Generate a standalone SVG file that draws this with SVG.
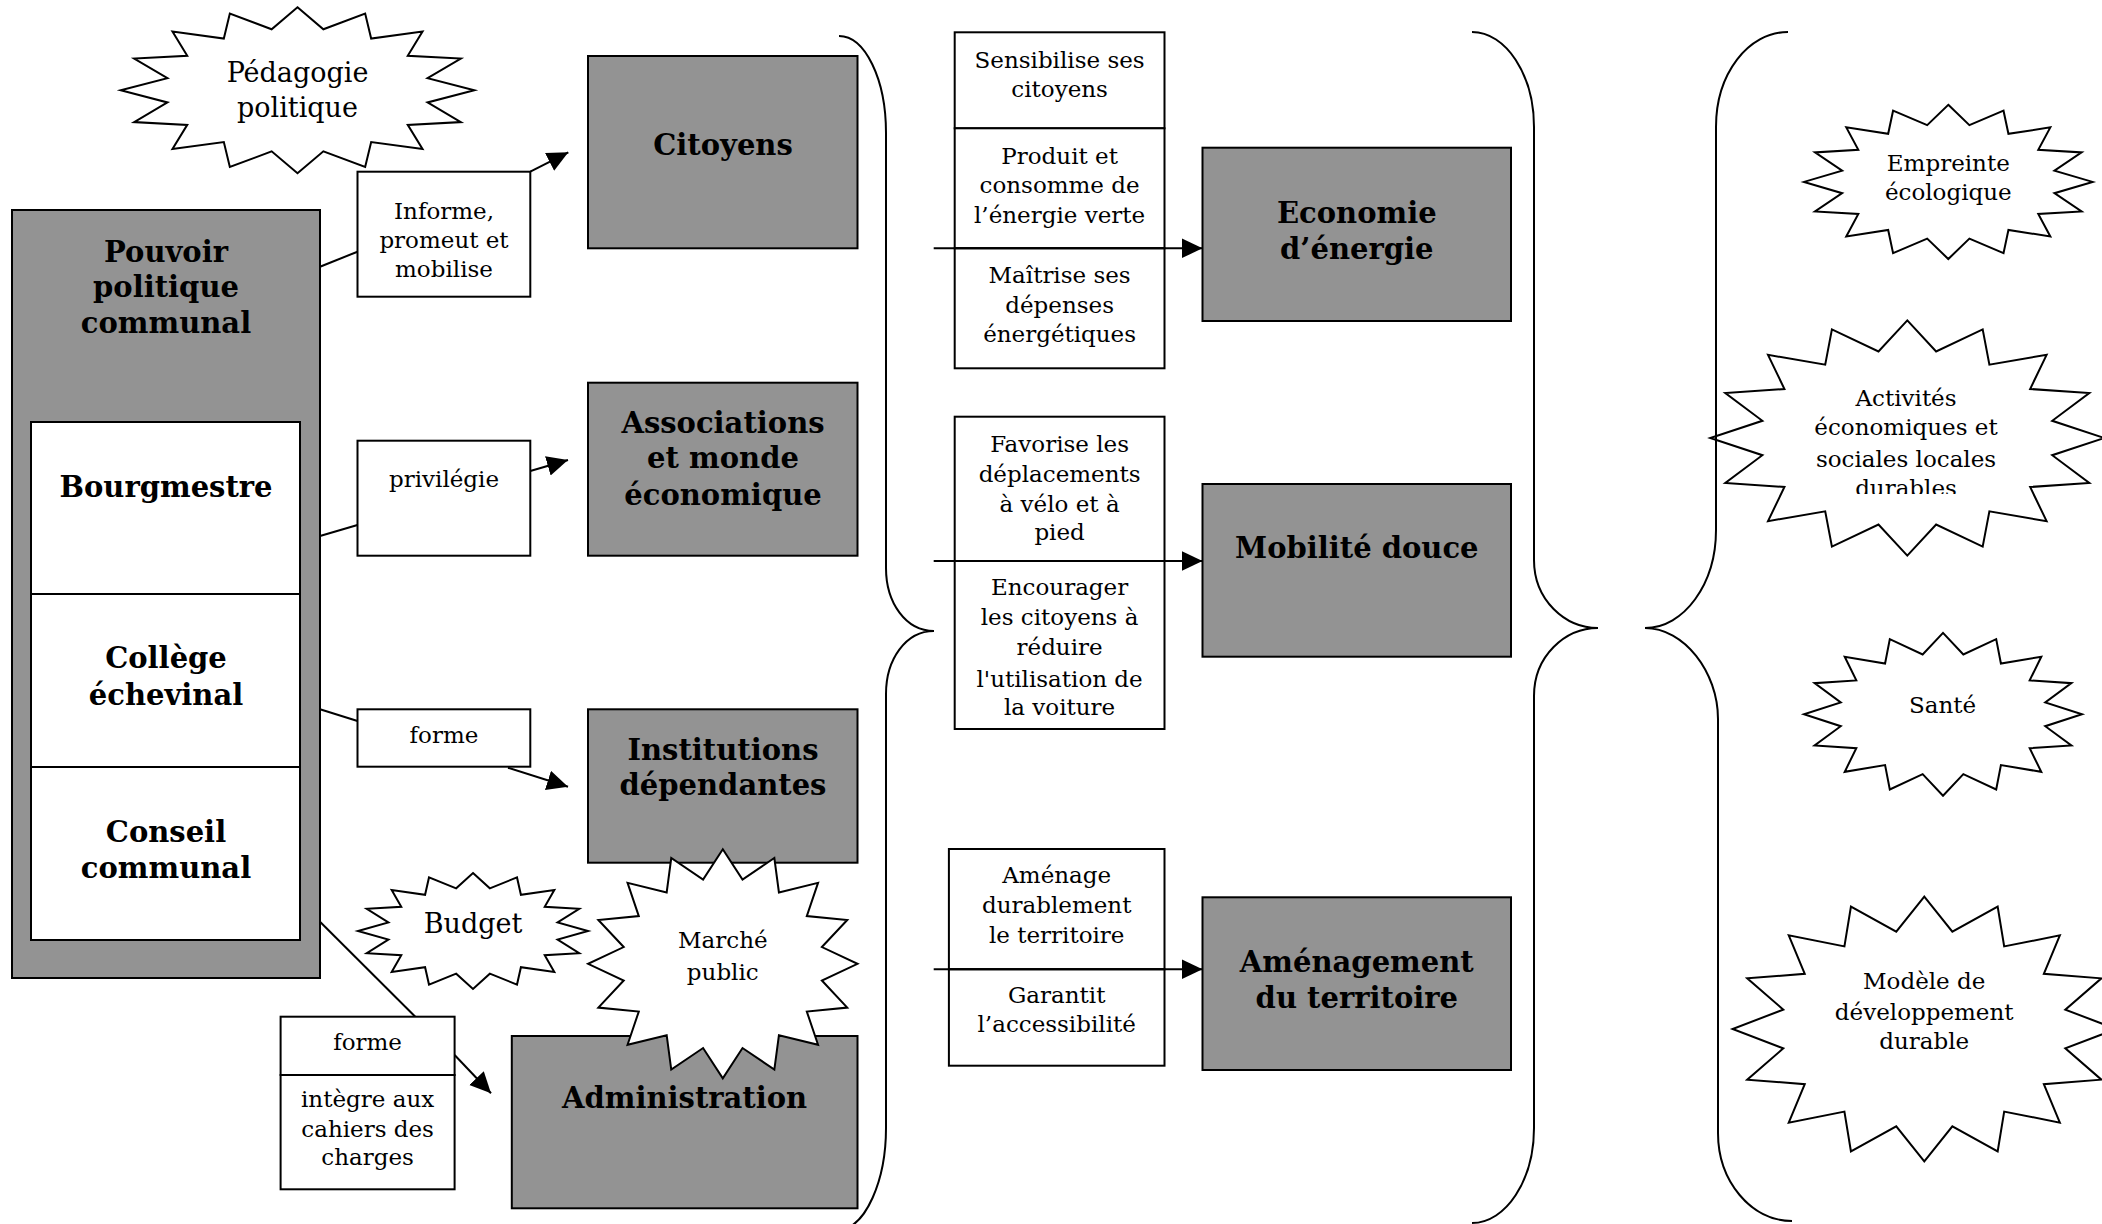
<svg xmlns="http://www.w3.org/2000/svg" xmlns:xlink="http://www.w3.org/1999/xlink" width="2102" height="1224" viewBox="0 0 2102 1224">
<style>
.gray{fill:#939393;stroke:#000;stroke-width:2}
.wbox{fill:#fff;stroke:#000;stroke-width:2}
.star{fill:#fff;stroke:#000;stroke-width:2}
.ln{stroke:#000;stroke-width:2;fill:none}
.arr{stroke:#000;stroke-width:2;fill:none;marker-end:url(#ah)}
.brace{fill:none;stroke:#000;stroke-width:2}
text{font-family:"DejaVu Serif","Liberation Serif",serif;text-anchor:middle;fill:#000}
.b{font-weight:bold;font-size:29px}
.n{font-size:23px}
.l{font-size:27px}
</style>
<defs>
<marker id="ah" markerUnits="userSpaceOnUse" markerWidth="24" markerHeight="22" refX="21" refY="10" orient="auto"><path d="M0,0 L21,10 L0,20 z" fill="#000"/></marker>
<polygon id="star16" vector-effect="non-scaling-stroke" points="0,-1 0.14632,-0.73559 0.38268,-0.92388 0.41668,-0.6236 0.70711,-0.70711 0.6236,-0.41668 0.92388,-0.38268 0.73559,-0.14632 1,0 0.73559,0.14632 0.92388,0.38268 0.6236,0.41668 0.70711,0.70711 0.41668,0.6236 0.38268,0.92388 0.14632,0.73559 0,1 -0.14632,0.73559 -0.38268,0.92388 -0.41668,0.6236 -0.70711,0.70711 -0.6236,0.41668 -0.92388,0.38268 -0.73559,0.14632 -1,0 -0.73559,-0.14632 -0.92388,-0.38268 -0.6236,-0.41668 -0.70711,-0.70711 -0.41668,-0.6236 -0.38268,-0.92388 -0.14632,-0.73559"/>
<clipPath id="clipAct"><rect x="1700" y="300" width="410" height="194"/></clipPath>
</defs>

<g id="connectors">
<line class="ln" x1="320" y1="266.7" x2="357.5" y2="251.7"/>
<line class="ln" x1="320" y1="536" x2="357.5" y2="525"/>
<line class="ln" x1="320" y1="709.3" x2="357.5" y2="721"/>
<line class="ln" x1="320" y1="921.7" x2="415.3" y2="1016.7"/>
<line class="arr" x1="530.3" y1="171.7" x2="568.3" y2="152.3"/>
<line class="arr" x1="530.3" y1="471" x2="568" y2="460"/>
<line class="arr" x1="508" y1="767.7" x2="568" y2="786.7"/>
<line class="arr" x1="454.6" y1="1055" x2="491" y2="1093.3"/>
</g>

<g id="pouvoir">
<rect class="gray" x="12" y="210" width="308" height="768"/>
<text class="b" x="166" y="261.7">Pouvoir</text>
<text class="b" x="166" y="297">politique</text>
<text class="b" x="166" y="333.3">communal</text>
</g>
<g id="bourgmestre">
<rect class="wbox" x="31" y="422" width="269" height="172"/>
<text class="b" x="166" y="496.7">Bourgmestre</text>
</g>
<g id="college">
<rect class="wbox" x="31" y="594" width="269" height="173"/>
<text class="b" x="166" y="668.3">Collège</text>
<text class="b" x="166" y="705">échevinal</text>
</g>
<g id="conseil">
<rect class="wbox" x="31" y="767" width="269" height="173"/>
<text class="b" x="166" y="841.7">Conseil</text>
<text class="b" x="166" y="878.3">communal</text>
</g>

<g id="pedagogie">
<use xlink:href="#star16" class="star" transform="translate(297.5 90.3) scale(176.8 83)"/>
<text class="l" x="297.5" y="81.7">Pédagogie</text>
<text class="l" x="297.5" y="116.7">politique</text>
</g>

<g id="informe">
<rect class="wbox" x="357.5" y="171.7" width="172.8" height="125"/>
<text class="n" x="444" y="219.3">Informe,</text>
<text class="n" x="444" y="248.3">promeut et</text>
<text class="n" x="444" y="276.7">mobilise</text>
</g>
<g id="privilegie">
<rect class="wbox" x="357.5" y="440.7" width="172.8" height="115"/>
<text class="n" x="444" y="487.3">privilégie</text>
</g>
<g id="forme1">
<rect class="wbox" x="357.5" y="709.3" width="172.8" height="57.4"/>
<text class="n" x="444" y="743.3">forme</text>
</g>
<g id="forme2">
<rect class="wbox" x="280.6" y="1016.7" width="174" height="58.3"/>
<rect class="wbox" x="280.6" y="1075" width="174" height="114.3"/>
<text class="n" x="367.6" y="1050">forme</text>
<text class="n" x="367.6" y="1106.7">intègre aux</text>
<text class="n" x="367.6" y="1136.7">cahiers des</text>
<text class="n" x="367.6" y="1165">charges</text>
</g>

<g id="citoyens">
<rect class="gray" x="588" y="56" width="269.5" height="192.3"/>
<text class="b" x="723" y="155">Citoyens</text>
</g>
<g id="associations">
<rect class="gray" x="588" y="382.7" width="269.5" height="173"/>
<text class="b" x="723" y="433.3">Associations</text>
<text class="b" x="723" y="468.3">et monde</text>
<text class="b" x="723" y="505">économique</text>
</g>
<g id="institutions">
<rect class="gray" x="588" y="709.3" width="269.5" height="153.4"/>
<text class="b" x="723" y="760">Institutions</text>
<text class="b" x="723" y="795">dépendantes</text>
</g>
<g id="administration">
<rect class="gray" x="511.8" y="1036" width="345.7" height="172.3"/>
<text class="b" x="684.6" y="1108.3">Administration</text>
</g>
<g id="budget">
<use xlink:href="#star16" class="star" transform="translate(473 931) scale(115 58)"/>
<text class="l" x="473" y="933.3">Budget</text>
</g>
<g id="marche">
<use xlink:href="#star16" class="star" transform="translate(722.8 963.8) scale(134.7 114.5)"/>
<text class="n" x="722.8" y="948.3">Marché</text>
<text class="n" x="722.8" y="980">public</text>
</g>

<g id="energie-actions">
<rect class="wbox" x="954.7" y="32.3" width="209.8" height="96"/>
<rect class="wbox" x="954.7" y="128.3" width="209.8" height="120"/>
<rect class="wbox" x="954.7" y="248.3" width="209.8" height="120"/>
<text class="n" x="1059.6" y="68.3">Sensibilise ses</text>
<text class="n" x="1059.6" y="96.7">citoyens</text>
<text class="n" x="1059.6" y="164">Produit et</text>
<text class="n" x="1059.6" y="193.3">consomme de</text>
<text class="n" x="1059.6" y="222.7">l’énergie verte</text>
<text class="n" x="1059.6" y="283.3">Maîtrise ses</text>
<text class="n" x="1059.6" y="312.7">dépenses</text>
<text class="n" x="1059.6" y="341.7">énergétiques</text>
</g>
<g id="mobilite-actions">
<rect class="wbox" x="954.7" y="416.7" width="209.8" height="144.3"/>
<rect class="wbox" x="954.7" y="561" width="209.8" height="168"/>
<text class="n" x="1059.6" y="451.7">Favorise les</text>
<text class="n" x="1059.6" y="481.7">déplacements</text>
<text class="n" x="1059.6" y="511.7">à vélo et à</text>
<text class="n" x="1059.6" y="540">pied</text>
<text class="n" x="1059.6" y="595">Encourager</text>
<text class="n" x="1059.6" y="625">les citoyens à</text>
<text class="n" x="1059.6" y="655">réduire</text>
<text class="n" x="1059.6" y="686.7">l'utilisation de</text>
<text class="n" x="1059.6" y="715">la voiture</text>
</g>
<g id="territoire-actions">
<rect class="wbox" x="948.9" y="849" width="215.6" height="120.3"/>
<rect class="wbox" x="948.9" y="969.3" width="215.6" height="96.4"/>
<text class="n" x="1056.7" y="883.3">Aménage</text>
<text class="n" x="1056.7" y="913.3">durablement</text>
<text class="n" x="1056.7" y="943.3">le territoire</text>
<text class="n" x="1056.7" y="1003.3">Garantit</text>
<text class="n" x="1056.7" y="1031.7">l’accessibilité</text>
</g>

<g id="mid-arrows">
<line class="arr" x1="933.7" y1="248.3" x2="1202.5" y2="248.3"/>
<line class="arr" x1="933.7" y1="561" x2="1202.5" y2="561"/>
<line class="arr" x1="933.7" y1="969.3" x2="1202.5" y2="969.3"/>
</g>

<g id="economie">
<rect class="gray" x="1202.5" y="147.7" width="308.5" height="173.3"/>
<text class="b" x="1356.8" y="223.3">Economie</text>
<text class="b" x="1356.8" y="259.3">d’énergie</text>
</g>
<g id="mobilite">
<rect class="gray" x="1202.5" y="484" width="308.5" height="172.7"/>
<text class="b" x="1356.8" y="558.3">Mobilité douce</text>
</g>
<g id="amenagement">
<rect class="gray" x="1202.5" y="897.3" width="308.5" height="172.7"/>
<text class="b" x="1356.8" y="971.7">Aménagement</text>
<text class="b" x="1356.8" y="1008.3">du territoire</text>
</g>

<g id="empreinte">
<use xlink:href="#star16" class="star" transform="translate(1948.3 181.9) scale(144.3 77.1)"/>
<text class="n" x="1948.3" y="170.8">Empreinte</text>
<text class="n" x="1948.3" y="199.7">écologique</text>
</g>
<g id="activites">
<use xlink:href="#star16" class="star" transform="translate(1907.3 438) scale(197 117.6)"/>
<g clip-path="url(#clipAct)">
<text class="n" x="1906" y="406">Activités</text>
<text class="n" x="1906" y="435">économiques et</text>
<text class="n" x="1906" y="466.6">sociales locales</text>
<text class="n" x="1906" y="496.2">durables</text>
</g>
</g>
<g id="sante">
<use xlink:href="#star16" class="star" transform="translate(1943 714.3) scale(139 81.4)"/>
<text class="n" x="1942.5" y="713.4">Santé</text>
</g>
<g id="modele">
<use xlink:href="#star16" class="star" transform="translate(1924.3 1029) scale(191.7 132.4)"/>
<text class="n" x="1924.2" y="989.2">Modèle de</text>
<text class="n" x="1924.2" y="1019.9">développement</text>
<text class="n" x="1924.2" y="1049">durable</text>
</g>

<g id="braces">
<path class="brace" d="M839,36 C865,36 886,79 886,133 L886,568 C886,603 906,631 934,631 C906,631 886,659 886,694 L886,1128 C886,1180 866,1228 839,1230"/>
<path class="brace" d="M1472,32 C1506,32 1534,75 1534,127 L1534,560 C1534,600 1565,628 1598,628 C1565,628 1534,656 1534,696 L1534,1128 C1534,1180 1506,1223 1472,1223"/>
<path class="brace" d="M1788,32 C1748,32 1716,74 1716,127 L1716,530 C1716,584 1684,628 1645,628 C1684,628 1718,672 1718,719 L1718,1133 C1718,1181 1751,1221 1792,1221"/>
</g>
</svg>
